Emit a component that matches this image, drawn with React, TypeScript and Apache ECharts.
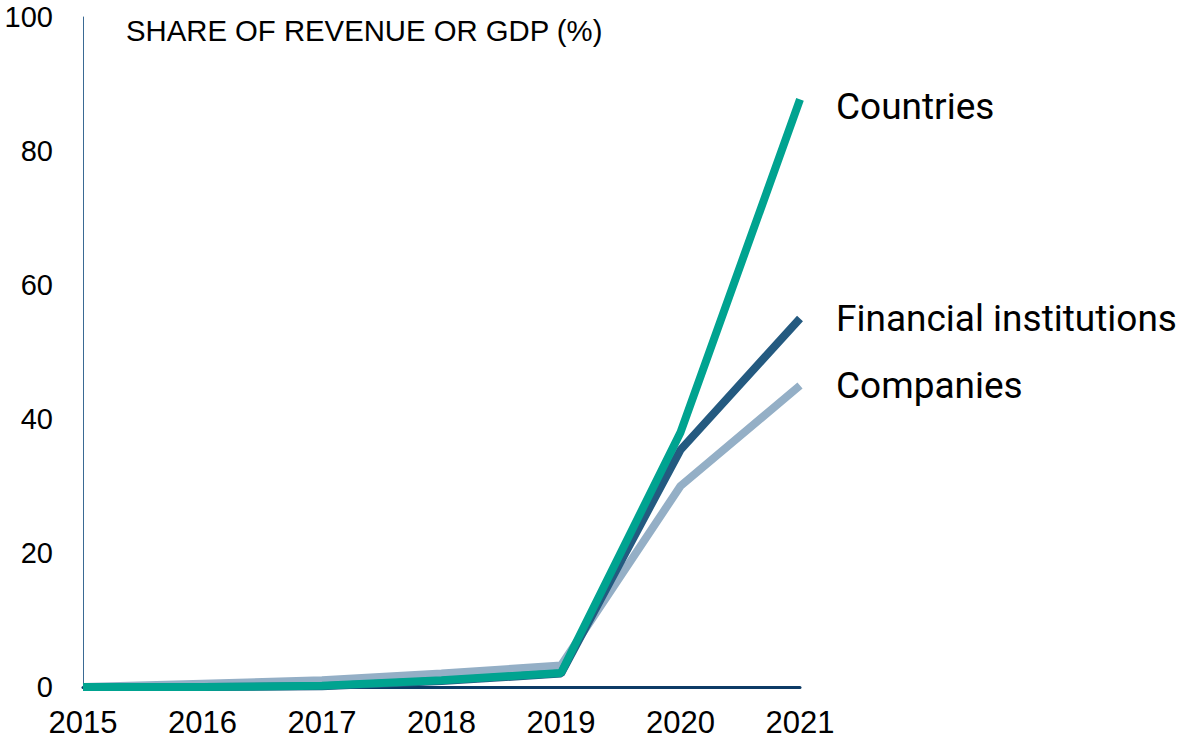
import React, { useEffect, useRef } from "react";
import * as echarts from "echarts";

const years = ["2015", "2016", "2017", "2018", "2019", "2020", "2021"];
const countries = [0, 0, 0.2, 1, 2.1, 38, 87.7];
const financialInstitutions = [0, 0, 0.1, 0.9, 2, 35.4, 55];
const companies = [0, 0.5, 1, 2, 3.2, 30, 45];
const yTicks = { min: 0, max: 100, interval: 20 };
const title = "SHARE OF REVENUE OR GDP (%)";

export default function App() {
  const ref = useRef<HTMLDivElement>(null);
  useEffect(() => {
    document.body.style.margin = "0";
    const chart = echarts.init(ref.current!, null, { renderer: "svg" });
    const endLabel = (offsetY: number) => ({
      show: true,
      formatter: "{a}",
      distance: 36,
      offset: [0, offsetY],
      color: "#000",
      fontFamily: "Roboto",
      fontSize: 37,
    });
    chart.setOption({
      animation: false,
      backgroundColor: "#fff",
      title: {
        text: title,
        left: 121,
        top: 11,
        textStyle: {
          fontFamily: "Liberation Sans",
          fontWeight: "normal",
          fontSize: 29.3,
          color: "#000",
        },
      },
      grid: { left: 83, right: 381, top: 17, bottom: 54 },
      xAxis: {
        type: "category",
        data: years,
        boundaryGap: false,
        axisLine: { lineStyle: { color: "#0d3b66", width: 3 } },
        axisTick: { show: false },
        axisLabel: {
          color: "#000",
          fontFamily: "Liberation Sans",
          fontSize: 31,
          margin: 20,
        },
      },
      yAxis: {
        type: "value",
        min: yTicks.min,
        max: yTicks.max,
        interval: yTicks.interval,
        axisLine: { show: true, lineStyle: { color: "#3a6a94", width: 1 } },
        axisTick: { show: false },
        splitLine: { show: false },
        axisLabel: {
          color: "#000",
          fontFamily: "Liberation Sans",
          fontSize: 29,
          margin: 30,
        },
      },
      series: [
        {
          name: "Companies",
          type: "line",
          data: companies,
          symbol: "none",
          lineStyle: { color: "#94afc6", width: 8 },
          endLabel: endLabel(0),
          z: 2,
        },
        {
          name: "Financial institutions",
          type: "line",
          data: financialInstitutions,
          symbol: "none",
          lineStyle: { color: "#245a80", width: 8 },
          endLabel: endLabel(0),
          z: 3,
        },
        {
          name: "Countries",
          type: "line",
          data: countries,
          symbol: "none",
          lineStyle: { color: "#00a390", width: 8 },
          endLabel: endLabel(7),
          z: 4,
        },
      ],
    });
    return () => chart.dispose();
  }, []);
  return (
    <div
      ref={ref}
      style={{ position: "absolute", left: 0, top: 0, width: 1181, height: 741 }}
    />
  );
}
